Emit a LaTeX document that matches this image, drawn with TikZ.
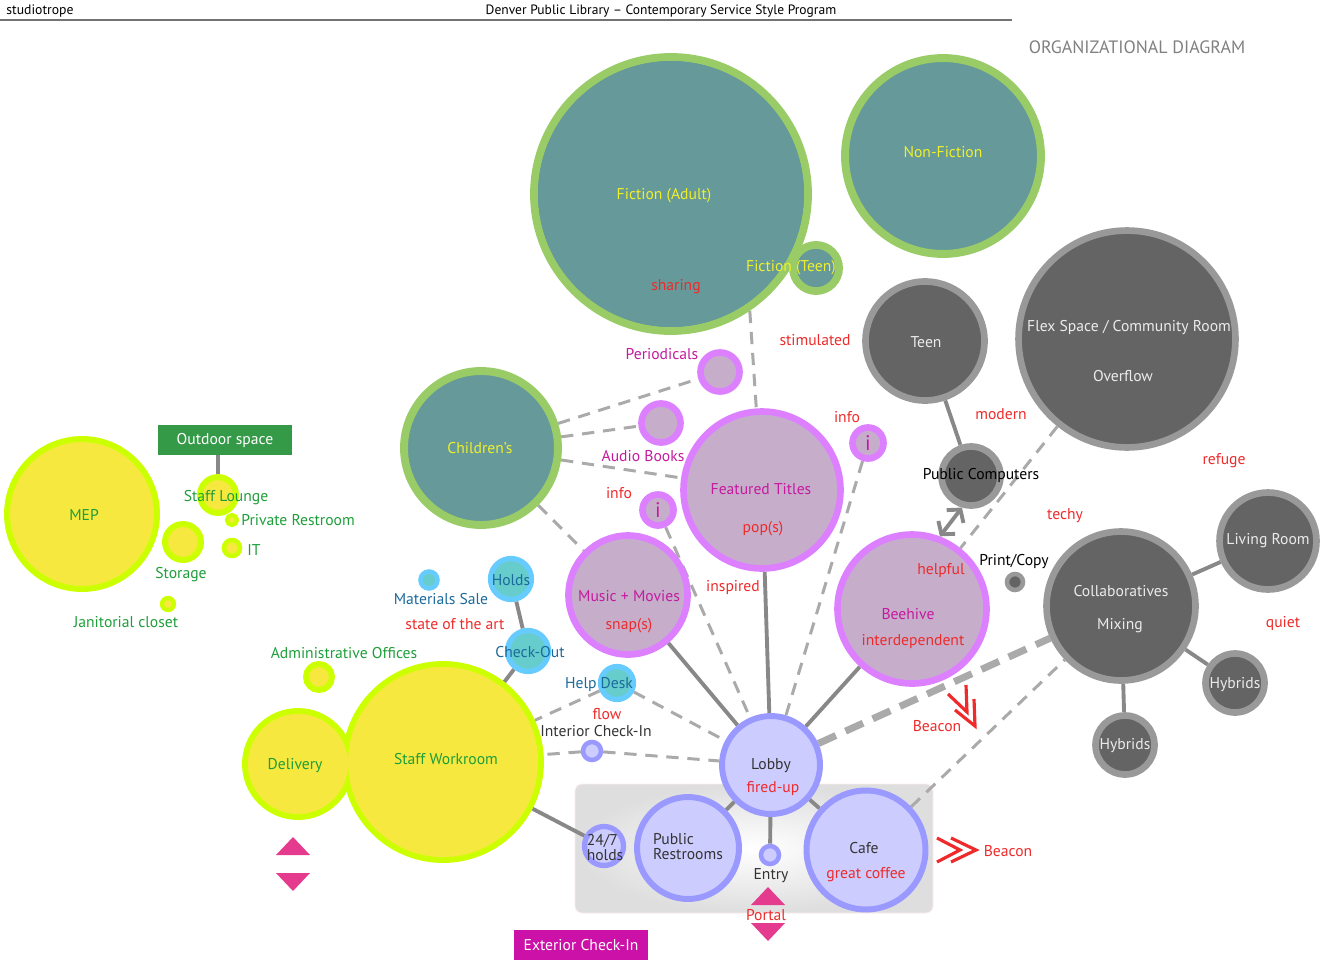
\documentclass[tikz,border=0pt]{standalone}
\usepackage{fontspec}
\setmainfont{PT Sans}
\usetikzlibrary{arrows.meta,backgrounds}

\definecolor{stackfill}{HTML}{669999}
\definecolor{stackring}{HTML}{99CC66}
\definecolor{stacktext}{HTML}{F0F02A}
\definecolor{mediafill}{HTML}{C6AECB}
\definecolor{mediaring}{HTML}{DD80FF}
\definecolor{mediatext}{HTML}{C41A9E}
\definecolor{techfill}{HTML}{646464}
\definecolor{techring}{HTML}{999999}
\definecolor{lobbyfill}{HTML}{CCCCFF}
\definecolor{lobbyring}{HTML}{9999FF}
\definecolor{deskfill}{HTML}{66CCCC}
\definecolor{deskring}{HTML}{66CCFF}
\definecolor{desktext}{HTML}{1B6A9C}
\definecolor{stafffill}{HTML}{F6E83E}
\definecolor{staffring}{HTML}{CCFF00}
\definecolor{stafftext}{HTML}{1E9E3A}
\definecolor{moodred}{HTML}{EE2A2A}
\definecolor{linkgray}{HTML}{888888}
\definecolor{dashgray}{HTML}{AAAAAA}
\definecolor{portalpink}{HTML}{E43B8F}
\definecolor{outdoorgreen}{HTML}{349A48}
\definecolor{checkinmag}{HTML}{CC11A8}

\begin{document}
\begin{tikzpicture}[x=0.02cm, y=-0.02cm,
    every node/.style={font=\fontsize{8.9}{10.5}\selectfont, inner sep=0pt},
    rad/.style={minimum size=#1*0.04cm},
    stack/.style={circle, draw=stackring, fill=stackfill, line width=4.5pt},
    media/.style={circle, draw=mediaring, fill=mediafill, line width=3.8pt},
    tech/.style={circle, draw=techring, fill=techfill, line width=3.8pt},
    lobby/.style={circle, draw=lobbyring, fill=lobbyfill, line width=3.4pt},
    desk/.style={circle, draw=deskring, fill=deskfill, line width=3pt},
    staff/.style={circle, draw=staffring, fill=stafffill, line width=3.4pt},
    lbl/.style={yshift=-0.03cm},
    stacklbl/.style={lbl, text=stacktext},
    medialbl/.style={lbl, text=mediatext},
    techlbl/.style={lbl, text=white!92!black},
    desklbl/.style={lbl, text=desktext},
    stafflbl/.style={lbl, text=stafftext},
    mood/.style={lbl, text=moodred},
    dark/.style={lbl, text=black!80},
    tag/.style={rectangle, minimum width=134*0.02cm, minimum height=30*0.02cm, text=white},
    link/.style={draw=linkgray, line width=2.2pt},
    dashlink/.style={draw=dashgray, line width=1.7pt, dash pattern=on 7pt off 5pt},
    beam/.style={draw=dashgray, line width=4pt, dash pattern=on 11pt off 6pt},
    beacon/.style={draw=moodred, line width=1.8pt},
    dbl/.style={draw=linkgray, line width=2.2pt, {Straight Barb[length=5pt,width=12pt]}-{Straight Barb[length=5pt,width=12pt]}}
]
\useasboundingbox (0,0) rectangle (1322,960);

% header
\node[anchor=west, font=\fontsize{7.8}{9}\selectfont] (studio) at (6,11) {studiotrope};
\node[font=\fontsize{7.7}{9}\selectfont] (title) at (661,11) {Denver Public Library -- Contemporary Service Style Program};
\draw[draw=black!55, line width=0.8pt] (0,20) -- (1012,20);
\node[text=black!50, font=\fontsize{10.2}{12}\selectfont] (orgdiag) at (1137,47) {ORGANIZATIONAL DIAGRAM};

% collections
\node[stack, rad=137] (fic) at (671,194) {};
\node[stack, rad=23] (ficteen) at (816,268) {};
\fill[stackfill] (fic) circle[radius=2.66cm];
\fill[stackfill] (ficteen) circle[radius=0.38cm];
\node[stack, rad=98] (nonfic) at (943,156) {};
\node[stack, rad=77] (kids) at (481,448) {};

\node[media, rad=19.5] (period) at (720,372) {};
\node[media, rad=19.5] (audio) at (661,423) {};
\node[media, rad=78.5] (feat) at (762,490) {};
\node[media, rad=15.5, text=mediatext, font=\fontsize{12}{12}\selectfont] (infor) at (868,443) {i};
\node[media, rad=15.5, text=mediatext, font=\fontsize{12}{12}\selectfont] (infol) at (658,510) {i};
\node[media, rad=59.5] (mus) at (628,595) {};
\node[media, rad=74.5] (hive) at (912,609) {};

% technology + gathering
\node[tech, rad=59.5] (teen) at (925,341) {};
\node[tech, rad=108.5] (flex) at (1127,339) {};
\node[tech, rad=29.5] (pc) at (971,476) {};
\node[tech, rad=8, line width=2.6pt] (print) at (1015,582) {};
\node[tech, rad=74.5] (collab) at (1121,606) {};
\node[tech, rad=48.5] (living) at (1268,541) {};
\node[tech, rad=29.5] (hyb1) at (1235,683) {};
\node[tech, rad=29.5] (hyb2) at (1125,745) {};

% lobby group
\begin{scope}[on background layer]
\node[rectangle, rounded corners=4pt, inner color=white, outer color=black!13, draw=red!8, minimum width=358*0.02cm, minimum height=129*0.02cm] (foyer) at (754,848.5) {};
\end{scope}
\node[lobby, rad=49] (lob) at (771,765) {};
\node[lobby, rad=51] (rest) at (688,848) {};
\node[lobby, rad=19.5, line width=3pt] (h247) at (604,846) {};
\node[lobby, rad=9, line width=2.6pt] (entry) at (770,855) {};
\node[lobby, rad=59.5] (cafe) at (866,850) {};
\node[lobby, rad=9, line width=2.6pt] (intin) at (592,751) {};

% service desks
\node[desk, rad=16.5] (help) at (617,683) {};
\node[desk, rad=20.5] (chkout) at (528,651) {};
\node[desk, rad=20.5] (holds) at (511,579) {};
\node[desk, rad=8.5, line width=2.6pt] (sale) at (429,580) {};

% staff
\node[staff, rad=98] (work) at (443,762) {};
\node[staff, rad=53] (deliv) at (298,764) {};
\fill[stafffill] (work) circle[radius=1.9cm];
\fill[stafffill] (deliv) circle[radius=1.0cm];
\node[staff, rad=13] (admin) at (319,677) {};
\node[staff, rad=75] (mep) at (82,514) {};
\node[staff, rad=18] (lounge) at (218,495) {};
\node[staff, rad=5, line width=2.4pt] (privr) at (232,520) {};
\node[staff, rad=18] (storage) at (183,542) {};
\node[staff, rad=8, line width=2.6pt] (it) at (232,548) {};
\node[staff, rad=6, line width=2.4pt] (jan) at (168,604) {};
\node[tag, fill=outdoorgreen] (outdoor) at (225,440) {Outdoor space};
\node[tag, fill=checkinmag] (extin) at (581,945) {Exterior Check-In};

% connectors
\begin{scope}[on background layer]
\draw[link] (mus) -- (lob);
\draw[link] (feat) -- (lob);
\draw[link] (hive) -- (lob);
\draw[link] (lob) -- (rest);
\draw[link] (lob) -- (entry);
\draw[link] (lob) -- (cafe);
\draw[link] (work) -- (h247);
\draw[link] (holds) -- (chkout);
\draw[link] (chkout) -- (work);
\draw[link] (teen) -- (pc);
\draw[link] (collab) -- (living);
\draw[link] (collab) -- (hyb1);
\draw[link] (collab) -- (hyb2);
\draw[link] (outdoor.south -| lounge.north) -- (lounge);
\draw[dashlink] (fic.-56) -- (feat.94);
\draw[dashlink] (kids) -- (period);
\draw[dashlink] (kids) -- (audio);
\draw[dashlink] (kids) -- (feat);
\draw[dashlink] (kids) -- (mus);
\draw[dashlink] (infol) -- (lob);
\draw[dashlink] (infor) -- (lob);
\draw[dashlink] (help) -- (lob);
\draw[dashlink] (help) -- (work);
\draw[dashlink] (intin) -- (lob);
\draw[dashlink] (intin) -- (work);
\draw[dashlink] (flex) -- (hive);
\draw[dashlink] (cafe) -- (collab);
\draw[beam] (lob) -- (collab);
\end{scope}
\draw[dbl] (hive.69) -- (pc.-106);

% portals + beacons
\fill[portalpink] (751,905) -- (768,887) -- (785,905) -- cycle;
\fill[portalpink] (751,923) -- (785,923) -- (768,941) -- cycle;
\fill[portalpink] (276,855) -- (293,837) -- (310,855) -- cycle;
\fill[portalpink] (276,873) -- (310,873) -- (293,891) -- cycle;
\draw[beacon] (937,838) -- (960,850) -- (937,862);
\draw[beacon] (951,838) -- (976,850) -- (951,862);
\draw[beacon] (948,694) -- (967,712) -- (966,685);
\draw[beacon] (955,710) -- (975,726) -- (974,699);

% labels
\node[stacklbl] (fictxt) at (664,194) {Fiction (Adult)};
\node[mood] (sharing) at (676,285) {sharing};
\node[stacklbl] (teentxt) at (791,266) {Fiction (Teen)};
\node[stacklbl] (nonfictxt) at (943,151) {Non-Fiction};
\node[stacklbl] (kidstxt) at (480,447) {Children's};
\node[medialbl] (periodtxt) at (662,353) {Periodicals};
\node[medialbl] (audiotxt) at (643,455) {Audio Books};
\node[medialbl] (feattxt) at (761,488) {Featured Titles};
\node[mood] (pops) at (763,527) {pop(s)};
\node[mood] (infortxt) at (847,416) {info};
\node[mood] (infoltxt) at (619,492) {info};
\node[mood] (stim) at (815,339) {stimulated};
\node[medialbl] (mustxt) at (629,595) {Music + Movies};
\node[mood] (snaps) at (629,624) {snap(s)};
\node[mood] (inspired) at (733,586) {inspired};
\node[mood] (helpful) at (941,569) {helpful};
\node[medialbl] (hivetxt) at (908,613) {Beehive};
\node[mood] (interdep) at (913,640) {interdependent};
\node[techlbl] (teentxt2) at (926,341) {Teen};
\node[techlbl] (flextxt) at (1129,326) {Flex Space / Community Room};
\node[techlbl] (overflow) at (1123,375) {Overflow};
\node[mood] (modern) at (1001,413) {modern};
\node[mood] (refuge) at (1224,459) {refuge};
\node[lbl] (pctxt) at (981,474) {Public Computers};
\node[mood] (techy) at (1065,514) {techy};
\node[lbl] (printtxt) at (1014,560) {Print/Copy};
\node[techlbl] (livingtxt) at (1268,539) {Living Room};
\node[techlbl] (collabtxt) at (1121,590) {Collaboratives};
\node[techlbl] (mixing) at (1120,624) {Mixing};
\node[mood] (quiet) at (1283,622) {quiet};
\node[techlbl] (hyb1txt) at (1235,683) {Hybrids};
\node[techlbl] (hyb2txt) at (1125,744) {Hybrids};
\node[mood] (beacon1) at (937,725) {Beacon};
\node[mood] (beacon2) at (1008,850) {Beacon};
\node[dark] (lobtxt) at (771,764) {Lobby};
\node[mood] (firedup) at (773,787) {fired-up};
\node[dark, align=left, font=\fontsize{8.9}{9}\selectfont] (resttxt) at (688,845) {Public\\Restrooms};
\node[dark, align=left, font=\fontsize{8.9}{9}\selectfont] (h247txt) at (605,846) {24/7\\holds};
\node[dark] (entrytxt) at (771,874) {Entry};
\node[dark] (cafetxt) at (864,847) {Cafe};
\node[mood] (coffee) at (866,873) {great coffee};
\node[mood] (portal) at (766,914) {Portal};
\node[desklbl] (helptxt) at (599,683) {Help Desk};
\node[mood] (flow) at (607,713) {flow};
\node[dark] (intintxt) at (596,730) {Interior Check-In};
\node[desklbl] (chkouttxt) at (530,651) {Check-Out};
\node[desklbl] (holdstxt) at (511,579) {Holds};
\node[desklbl] (saletxt) at (441,598) {Materials Sale};
\node[mood] (stateart) at (455,623) {state of the art};
\node[stafflbl] (admintxt) at (344,652) {Administrative Offices};
\node[stafflbl] (worktxt) at (446,758) {Staff Workroom};
\node[stafflbl] (delivtxt) at (295,764) {Delivery};
\node[stafflbl] (meptxt) at (84,513) {MEP};
\node[stafflbl] (loungetxt) at (226,496) {Staff Lounge};
\node[stafflbl] (privrtxt) at (298,519) {Private Restroom};
\node[stafflbl] (storagetxt) at (181,573) {Storage};
\node[stafflbl] (ittxt) at (254,549) {IT};
\node[stafflbl] (jantxt) at (126,621) {Janitorial closet};
\end{tikzpicture}
\end{document}
